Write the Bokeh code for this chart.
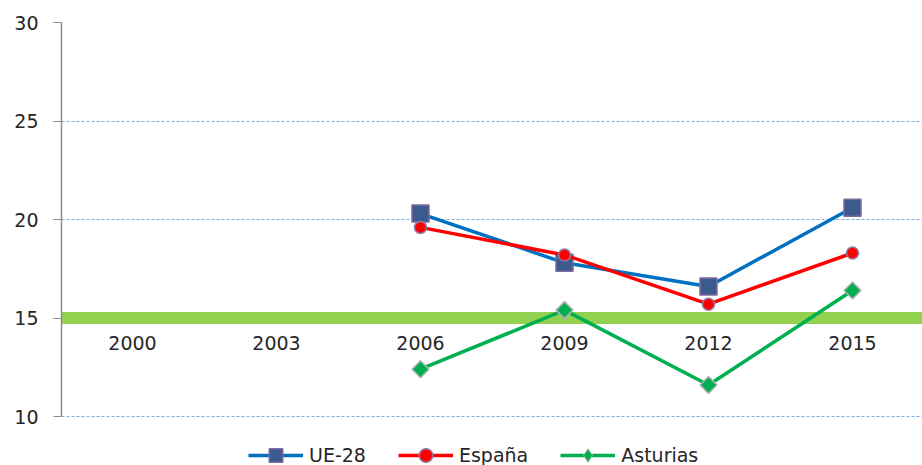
import math
from bokeh.plotting import figure
from bokeh.models import Range1d, Span, Legend, LegendItem, FixedTicker
from bokeh.core.properties import value
from bokeh.embed import file_html
from bokeh.resources import INLINE

nan = float("nan")
years = ["2000", "2003", "2006", "2009", "2012", "2015"]
ue28 = [nan, nan, 20.3, 17.8, 16.6, 20.6]
espana = [nan, nan, 19.6, 18.2, 15.7, 18.3]
asturias = [nan, nan, 12.4, 15.4, 11.6, 16.4]
y_ticks = [10, 15, 20, 25, 30]
cross_value = 15

xs = list(range(len(years)))
FONT = "DejaVu Sans"

p = figure(width=922, height=465, output_backend="svg", toolbar_location=None,
           x_range=Range1d(-0.493, 5.486), y_range=Range1d(7.513, 30),
           min_border_left=61, min_border_right=0, min_border_top=22,
           min_border_bottom=0, x_axis_location=None)
p.outline_line_color = None
p.background_fill_color = "white"
p.border_fill_color = "white"
p.xgrid.visible = False

ax = p.yaxis[0]
ax.ticker = FixedTicker(ticks=y_ticks)
ax.bounds = (10, 30)
ax.minor_tick_line_color = None
ax.major_tick_in = 0
ax.major_tick_out = 8
ax.axis_line_color = "#8c8c8c"
ax.axis_line_width = 1.5
ax.major_tick_line_color = "#8c8c8c"
ax.major_label_text_font = FONT
ax.major_label_text_font_size = "19px"
ax.major_label_text_color = "#262626"
ax.major_label_standoff = 15

p.ygrid.grid_line_color = "#5B9BD5"
p.ygrid.grid_line_dash = "3 2"
p.ygrid.grid_line_width = 1
p.ygrid.grid_line_alpha = 0.8
p.ygrid.bounds = (10, 30)

band = Span(location=cross_value, dimension="width", line_color="#92D050",
            line_width=12, level="underlay")
p.add_layout(band)

p.text(x=xs, y=[cross_value] * len(years), text=years, text_align="center",
       text_baseline="middle", y_offset=25, text_font=value(FONT),
       text_font_size="19px", text_color="#262626")

r1l = p.line(xs, ue28, line_color="#0070C0", line_width=3.5)
r1m = p.scatter(xs, ue28, marker="square", size=17, fill_color="#3B5B8F",
                line_color="#7E6A9E", line_width=1.5)
r2l = p.line(xs, espana, line_color="#FF0000", line_width=3.5)
r2m = p.scatter(xs, espana, marker="circle", size=12, fill_color="#FF0000",
                line_color="#8E7CA8", line_width=1.5)
r3l = p.line(xs, asturias, line_color="#00B050", line_width=3.5)
r3m = p.scatter(xs, asturias, marker="square", angle=math.pi / 4, size=12,
                fill_color="#00B050", line_color="#B3B3B3", line_width=1.5)
# legend-only swatch (rotation is not applied inside legends); draws nothing in the plot
r3k = p.scatter(x=xs, y=[nan for _ in xs], marker="diamond",
                fill_color="#00B050", line_color="#B3B3B3", line_width=1)

legend = Legend(items=[
    LegendItem(label="UE-28", renderers=[r1l, r1m]),
    LegendItem(label="España", renderers=[r2l, r2m]),
    LegendItem(label="Asturias", renderers=[r3l, r3k]),
], orientation="horizontal", location=(187, -7), border_line_color=None,
    background_fill_alpha=0, label_text_font=FONT, label_text_font_size="19px",
    label_text_color="#262626", glyph_width=55, glyph_height=34,
    label_standoff=6, spacing=32, padding=0, margin=0)
p.add_layout(legend)

open("out.html", "w").write(file_html(p, INLINE))
